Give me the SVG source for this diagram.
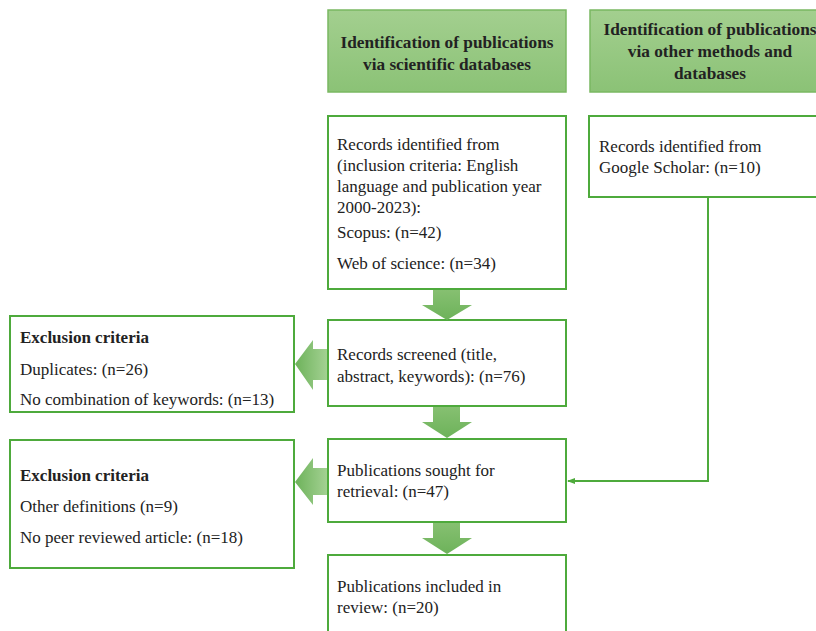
<svg xmlns="http://www.w3.org/2000/svg" width="816" height="631" viewBox="0 0 816 631">
<defs>
<linearGradient id="hdr" x1="0" y1="0" x2="0" y2="1">
<stop offset="0" stop-color="#a3cf8f"/>
<stop offset="1" stop-color="#8bc276"/>
</linearGradient>
<linearGradient id="arV" x1="0" y1="0" x2="0" y2="1">
<stop offset="0" stop-color="#86c071"/>
<stop offset="1" stop-color="#6db25a"/>
</linearGradient>
<linearGradient id="arH" x1="1" y1="0" x2="0" y2="0">
<stop offset="0" stop-color="#a3d192"/>
<stop offset="1" stop-color="#6db25a"/>
</linearGradient>
<marker id="tip" markerWidth="8" markerHeight="8" refX="7" refY="4" orient="auto" markerUnits="userSpaceOnUse">
<path d="M0,1 L8,4 L0,7 z" fill="#4eaa3c"/>
</marker>
</defs>
<style>
.hdr{fill:url(#hdr);stroke:#7ab862;stroke-width:1.5}
.box{fill:#fff;stroke:#4eaa3c;stroke-width:2}
text{font-family:'Liberation Serif','DejaVu Serif',serif;fill:#222}
.t{font-size:17px}
.b{font-size:17.3px;font-weight:bold}
.bl{font-size:17px;font-weight:bold}
.line{fill:none;stroke:#4eaa3c;stroke-width:2}
</style>
<rect width="816" height="631" fill="#fff"/>
<g id="hdr1">
<rect class="hdr" x="328" y="10" width="238" height="82"/>
<text class="b" x="447" y="48" text-anchor="middle">Identification of publications</text>
<text class="b" x="447" y="70" text-anchor="middle">via scientific databases</text>
</g>
<g id="hdr2">
<rect class="hdr" x="590" y="10" width="240" height="82"/>
<text class="b" x="710" y="35" text-anchor="middle">Identification of publications</text>
<text class="b" x="710" y="57" text-anchor="middle">via other methods and</text>
<text class="b" x="710" y="79" text-anchor="middle">databases</text>
</g>
<g id="identified">
<rect class="box" x="328" y="116" width="238" height="173"/>
<text class="t" x="337" y="150">Records identified from</text>
<text class="t" x="337" y="171">(inclusion criteria: English</text>
<text class="t" x="337" y="192">language and publication year</text>
<text class="t" x="337" y="213">2000-2023):</text>
<text class="t" x="337" y="238">Scopus: (n=42)</text>
<text class="t" x="337" y="269">Web of science: (n=34)</text>
</g>
<g id="scholar">
<rect class="box" x="589" y="116" width="240" height="81"/>
<text class="t" x="599" y="152">Records identified from</text>
<text class="t" x="599" y="173">Google Scholar: (n=10)</text>
</g>
<g id="excl1">
<rect class="box" x="10" y="316" width="284" height="96"/>
<text class="bl" x="20" y="343">Exclusion criteria</text>
<text class="t" x="20" y="375">Duplicates: (n=26)</text>
<text class="t" x="20" y="405">No combination of keywords: (n=13)</text>
</g>
<g id="screened">
<rect class="box" x="328" y="320" width="238" height="86"/>
<text class="t" x="337" y="360">Records screened (title,</text>
<text class="t" x="337" y="382">abstract, keywords): (n=76)</text>
</g>
<g id="excl2">
<rect class="box" x="10" y="440" width="284" height="128"/>
<text class="bl" x="20" y="481">Exclusion criteria</text>
<text class="t" x="20" y="512">Other definitions (n=9)</text>
<text class="t" x="20" y="543">No peer reviewed article: (n=18)</text>
</g>
<g id="sought">
<rect class="box" x="328" y="439" width="238" height="83"/>
<text class="t" x="337" y="476">Publications sought for</text>
<text class="t" x="337" y="497">retrieval: (n=47)</text>
</g>
<g id="included">
<rect class="box" x="328" y="555" width="238" height="90"/>
<text class="t" x="337" y="592">Publications included in</text>
<text class="t" x="337" y="613">review: (n=20)</text>
</g>
<g id="connectors">
<path d="M433,290 H460 V305 H472 L447,320 L422,305 H433 Z" fill="url(#arV)"/>
<path d="M433,407 H460 V422 H472 L447,438 L422,422 H433 Z" fill="url(#arV)"/>
<path d="M433,523 H460 V538 H472 L447,554 L422,538 H433 Z" fill="url(#arV)"/>
<path d="M327,349 V380 H313 V390 L295,364 L313,340 V349 Z" fill="url(#arH)"/>
<path d="M327,468 V495 H313 V505 L295,482 L313,458 V468 Z" fill="url(#arH)"/>
<path class="line" d="M708,198 V481 H568" marker-end="url(#tip)"/>
</g>
</svg>
